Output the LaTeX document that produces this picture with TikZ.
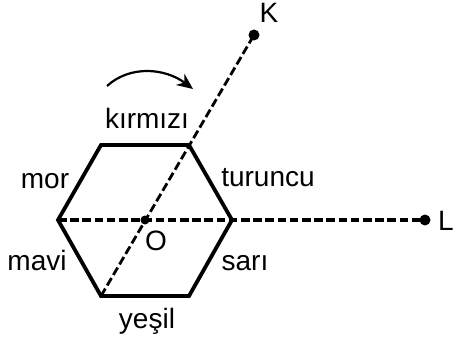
\documentclass[tikz,border=0pt]{standalone}
\usepackage{fontspec}
\setmainfont{Liberation Sans}
\usetikzlibrary{arrows.meta}
\begin{document}
\begin{tikzpicture}[
  x=0.5pt, y=-0.5pt,
  edge/.style={draw, line width=1.9pt, line join=miter},
  axis/.style={draw, line width=1.6pt, dash pattern=on 4.3pt off 1.8pt},
  dot/.style={circle, fill, inner sep=0pt, minimum size=5.5pt},
  lbl/.style={anchor=base, font=\fontsize{14}{16}\selectfont, inner sep=0pt},
  ]
 \useasboundingbox (0,0) rectangle (454,347);
 % hexagon corners
 \coordinate (ml) at (58,220);
 \coordinate (tl) at (101,145);
 \coordinate (tr) at (189,145);
 \coordinate (mr) at (232,220);
 \coordinate (br) at (189,296);
 \coordinate (bl) at (101,296);
 \node [dot, minimum size=4.5pt] (O) at (145,220) {};
 \node [dot] (K) at (254,35) {};
 \node [dot] (L) at (425,220) {};
 \draw [edge] (tl) -- (tr) -- (mr) -- (br) -- (bl) -- (ml) -- cycle;
 \draw [axis] (ml) -- (L.center);
 \draw [axis, line width=1.4pt] (bl) -- (K.center);
 % rotation sense
 \coordinate (rs) at (107,86);
 \coordinate (re) at (193,89);
 \draw [line width=1.1pt, -{Stealth[length=8pt, width=7pt]}] (rs) .. controls (130,65) and (165,68) .. (re);
 % colour names
 \node [lbl] (kirmizi) at (147,129) {kırmızı};
 \node [lbl] (mor) at (45,189) {mor};
 \node [lbl] (turuncu) at (268,186) {turuncu};
 \node [lbl] (mavi) at (37,270) {mavi};
 \node [lbl] (sari) at (245,270) {sarı};
 \node [lbl] (yesil) at (147,328) {yeşil};
 \node [lbl] (Olbl) at (156,250) {O};
 \node [lbl] (Klbl) at (269,23) {K};
 \node [lbl] (Llbl) at (446,230) {L};
\end{tikzpicture}
\end{document}
